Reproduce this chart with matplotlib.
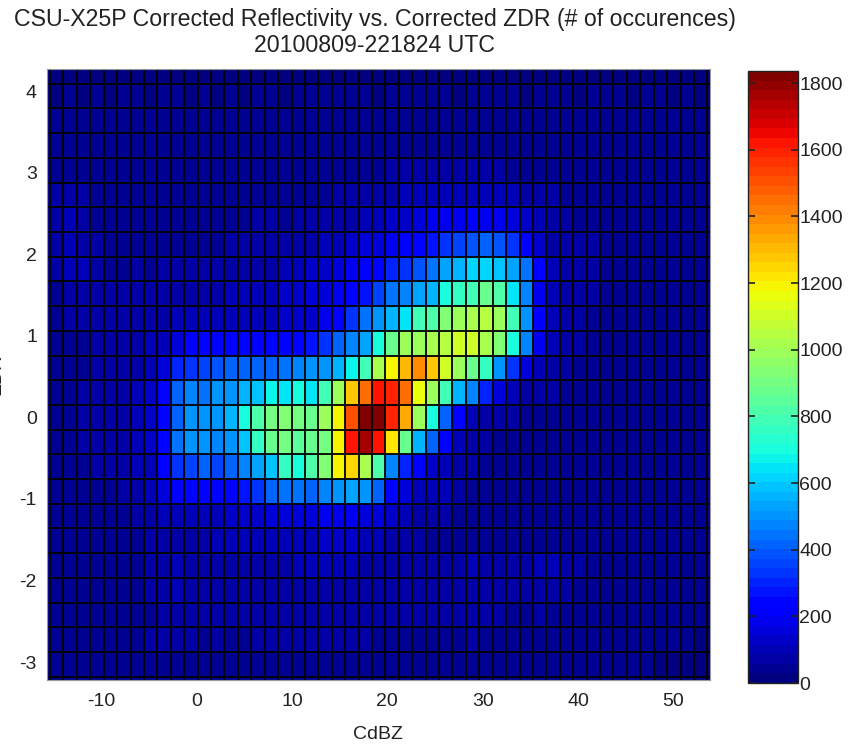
import numpy as np
import matplotlib
matplotlib.use("Agg")
import matplotlib.pyplot as plt

plt.rcParams["font.family"] = ["Liberation Sans", "DejaVu Sans"]
plt.rcParams["axes.unicode_minus"] = False

# Bin edges of the 2-D histogram (dBZ columns, ZDR rows)
dbz_edges = np.linspace(-16.756, 54.956, 52)
zdr_edges = np.linspace(-3.483, 4.395, 27)

# Counts per bin, listed from the top ZDR row down to the bottom row
counts_top_down = [
    [22, 25, 28, 24, 26, 23, 25, 27, 24, 26, 28, 25, 27, 24, 26, 25, 28, 26, 24, 27, 25, 26, 28, 25, 27, 24, 26, 25, 27, 28,
     26, 24, 25, 27, 26, 25, 24, 26, 27, 25, 24, 26, 25, 27, 24, 25, 26, 24, 25, 23, 22],
    [24, 28, 32, 27, 30, 26, 29, 31, 27, 29, 31, 28, 30, 27, 29, 28, 32, 30, 27, 31, 29, 30, 32, 29, 31, 28, 30, 29, 31, 33,
     30, 28, 29, 31, 30, 29, 28, 30, 31, 29, 28, 30, 29, 31, 28, 29, 30, 28, 29, 27, 25],
    [26, 32, 36, 30, 33, 29, 32, 35, 30, 33, 35, 31, 34, 30, 33, 32, 36, 34, 31, 35, 33, 34, 37, 34, 36, 33, 36, 38, 36, 38,
     35, 33, 34, 36, 35, 34, 32, 34, 35, 33, 32, 34, 33, 35, 32, 33, 34, 31, 32, 30, 28],
    [28, 38, 44, 36, 38, 33, 36, 40, 34, 37, 40, 35, 38, 34, 37, 36, 40, 38, 35, 39, 37, 39, 42, 40, 43, 41, 45, 48, 46, 48,
     45, 42, 44, 45, 43, 41, 38, 40, 41, 38, 36, 38, 37, 39, 36, 37, 38, 35, 36, 33, 30],
    [30, 48, 56, 44, 42, 37, 40, 44, 38, 41, 44, 39, 42, 38, 41, 40, 44, 42, 40, 44, 42, 45, 50, 48, 52, 52, 58, 62, 60, 64,
     62, 58, 60, 62, 58, 54, 48, 50, 50, 46, 42, 44, 42, 44, 40, 41, 42, 39, 40, 36, 33],
    [34, 62, 78, 60, 50, 42, 45, 48, 43, 46, 48, 44, 47, 43, 46, 46, 50, 49, 47, 52, 52, 56, 62, 64, 70, 74, 84, 92, 96, 104,
     108, 106, 110, 112, 104, 92, 76, 66, 62, 56, 50, 50, 48, 49, 45, 45, 46, 42, 43, 39, 36],
    [38, 70, 96, 74, 56, 46, 48, 52, 47, 50, 52, 48, 51, 48, 52, 53, 58, 58, 57, 62, 66, 72, 80, 86, 96, 108, 124, 140, 160, 180,
     196, 198, 204, 200, 186, 160, 120, 88, 72, 62, 56, 54, 52, 52, 48, 48, 48, 44, 45, 41, 38],
    [40, 74, 110, 84, 62, 50, 52, 55, 51, 54, 57, 53, 56, 54, 58, 60, 66, 68, 70, 78, 86, 96, 108, 124, 150, 170, 192, 204, 232, 282,
     324, 362, 400, 418, 384, 320, 224, 130, 86, 70, 62, 58, 55, 55, 50, 50, 50, 46, 46, 42, 39],
    [40, 66, 102, 92, 66, 54, 56, 58, 55, 60, 62, 60, 63, 62, 68, 72, 80, 86, 96, 108, 122, 140, 160, 184, 220, 252, 290, 340, 400, 432,
     520, 562, 604, 624, 602, 540, 442, 232, 110, 78, 66, 60, 57, 56, 52, 51, 50, 47, 47, 43, 40],
    [38, 56, 72, 70, 62, 58, 60, 62, 62, 70, 74, 74, 78, 80, 88, 96, 106, 114, 126, 138, 150, 164, 192, 232, 272, 372, 432, 482, 540, 572,
     690, 752, 802, 862, 812, 652, 472, 192, 100, 74, 64, 58, 55, 54, 50, 50, 49, 46, 46, 42, 39],
    [36, 50, 58, 60, 60, 60, 64, 68, 74, 80, 90, 95, 98, 100, 102, 104, 108, 112, 118, 126, 140, 180, 222, 342, 432, 516, 572, 632, 802, 822,
     920, 982, 1032, 1042, 982, 802, 516, 222, 100, 72, 62, 56, 53, 52, 49, 48, 47, 45, 45, 41, 38],
    [36, 48, 54, 56, 58, 60, 64, 72, 90, 110, 165, 220, 230, 228, 236, 232, 228, 240, 232, 240, 262, 342, 402, 462, 542, 692, 862, 982, 1002, 1032,
     1042, 1100, 1098, 1032, 922, 692, 462, 200, 96, 70, 60, 55, 52, 51, 48, 47, 46, 44, 44, 40, 37],
    [36, 46, 52, 56, 60, 64, 70, 80, 100, 165, 300, 342, 372, 382, 402, 412, 402, 422, 432, 462, 492, 516, 572, 662, 802, 1032, 1202, 1302, 1402, 1266,
     1100, 982, 862, 752, 516, 342, 172, 100, 72, 62, 56, 52, 50, 49, 46, 45, 44, 42, 42, 39, 36],
    [36, 46, 52, 58, 64, 70, 78, 92, 120, 222, 402, 462, 432, 492, 516, 572, 602, 662, 632, 692, 642, 802, 982, 1266, 1462, 1632, 1582, 1462, 1162, 982,
     802, 572, 462, 302, 172, 110, 80, 66, 60, 56, 52, 49, 47, 46, 44, 43, 42, 40, 40, 37, 35],
    [36, 46, 54, 60, 66, 74, 84, 100, 130, 256, 402, 492, 488, 494, 572, 692, 806, 892, 922, 892, 862, 982, 1182, 1516, 1836, 1822, 1582, 1332, 982, 692,
     402, 222, 112, 80, 66, 60, 56, 52, 50, 48, 46, 45, 44, 43, 42, 41, 40, 38, 38, 36, 34],
    [35, 45, 52, 58, 64, 72, 82, 98, 130, 256, 432, 492, 490, 462, 516, 602, 752, 862, 892, 832, 862, 892, 1182, 1632, 1772, 1632, 1212, 862, 572, 402,
     222, 112, 72, 60, 55, 52, 50, 48, 46, 45, 44, 43, 42, 41, 40, 40, 39, 37, 37, 35, 33],
    [34, 42, 48, 54, 60, 66, 74, 88, 110, 222, 342, 372, 402, 372, 402, 462, 542, 602, 752, 692, 806, 922, 1182, 1242, 1032, 806, 462, 302, 222, 140,
     110, 80, 62, 55, 50, 48, 46, 45, 44, 43, 42, 41, 40, 40, 39, 38, 38, 36, 36, 34, 32],
    [33, 40, 44, 48, 52, 56, 62, 72, 90, 166, 222, 242, 252, 242, 252, 262, 342, 402, 432, 432, 402, 462, 516, 542, 492, 402, 256, 166, 110, 108,
     90, 66, 56, 52, 48, 46, 45, 44, 43, 42, 41, 40, 40, 39, 38, 38, 37, 35, 35, 33, 31],
    [32, 38, 42, 45, 48, 52, 56, 62, 72, 90, 100, 110, 112, 110, 120, 130, 140, 150, 160, 170, 172, 182, 190, 192, 172, 150, 120, 92, 72, 64,
     58, 52, 48, 46, 44, 43, 42, 42, 41, 40, 40, 39, 39, 38, 37, 37, 36, 34, 34, 32, 30],
    [31, 36, 40, 42, 45, 48, 52, 56, 62, 70, 76, 82, 86, 88, 92, 96, 100, 104, 108, 112, 114, 118, 120, 118, 110, 98, 86, 72, 62, 56,
     52, 48, 45, 43, 42, 41, 40, 40, 39, 38, 38, 37, 37, 36, 36, 35, 35, 33, 33, 31, 29],
    [30, 34, 38, 40, 43, 46, 50, 54, 58, 64, 90, 72, 74, 76, 78, 80, 82, 84, 86, 88, 88, 90, 90, 88, 84, 78, 72, 66, 62, 70,
     76, 82, 92, 74, 66, 70, 80, 92, 88, 84, 70, 52, 44, 40, 38, 36, 35, 33, 33, 31, 29],
    [30, 34, 37, 40, 42, 45, 48, 52, 60, 84, 88, 70, 66, 64, 66, 68, 70, 72, 74, 76, 76, 78, 78, 76, 74, 72, 70, 66, 62, 66,
     70, 74, 84, 72, 64, 62, 64, 70, 68, 64, 56, 48, 42, 39, 37, 35, 34, 32, 32, 30, 28],
    [29, 33, 36, 38, 40, 43, 46, 50, 56, 70, 82, 66, 62, 60, 60, 62, 64, 66, 66, 68, 68, 70, 70, 68, 66, 64, 62, 60, 58, 60,
     62, 64, 66, 62, 58, 56, 56, 58, 56, 52, 46, 42, 38, 36, 34, 33, 32, 31, 30, 29, 27],
    [28, 32, 34, 36, 38, 41, 44, 48, 64, 58, 60, 58, 56, 72, 56, 56, 58, 58, 60, 60, 60, 62, 62, 60, 58, 57, 56, 54, 52, 54,
     55, 56, 58, 55, 52, 50, 50, 52, 50, 47, 42, 39, 36, 34, 32, 31, 30, 29, 29, 28, 26],
    [27, 30, 32, 34, 36, 38, 40, 44, 48, 50, 52, 52, 50, 50, 50, 50, 52, 52, 53, 54, 54, 55, 55, 54, 52, 51, 50, 48, 47, 48,
     49, 50, 51, 49, 46, 45, 45, 46, 45, 43, 39, 36, 34, 32, 30, 29, 28, 27, 27, 26, 25],
    [26, 28, 30, 32, 34, 36, 38, 40, 42, 44, 45, 46, 46, 46, 46, 46, 47, 47, 48, 48, 48, 49, 49, 48, 47, 46, 45, 44, 43, 43,
     44, 45, 45, 44, 42, 41, 41, 42, 41, 39, 36, 34, 32, 30, 29, 28, 27, 26, 26, 25, 24],
]
counts = np.array(counts_top_down[::-1])

cbar_ticks = list(range(0, 1801, 200))
x_ticks = [-10, 0, 10, 20, 30, 40, 50]
y_ticks = [-3, -2, -1, 0, 1, 2, 3, 4]

text_color = "#222222"

fig = plt.figure(figsize=(8.54, 7.49), dpi=100)
ax = fig.add_axes([0.0547, 0.0921, 0.7767, 0.8154])

cmap = plt.get_cmap("jet", 64)
mesh = ax.pcolormesh(dbz_edges, zdr_edges, counts, cmap=cmap, vmin=0, vmax=1836,
                     shading="flat", edgecolors="none")

# black facet lines between the bins
ax.vlines(dbz_edges, zdr_edges[0], zdr_edges[-1], colors="k", linewidth=1.3)
ax.hlines(zdr_edges, dbz_edges[0], dbz_edges[-1], colors="k", linewidth=1.3)

ax.set_xlim(-15.7, 53.83)
ax.set_ylim(-3.22, 4.269)
ax.set_xticks(x_ticks)
ax.set_yticks(y_ticks)
ax.tick_params(length=0, labelsize=14, colors=text_color)
ax.tick_params(axis="x", pad=9)
ax.tick_params(axis="y", pad=7)
for s in ax.spines.values():
    s.set_color("0.6")
ax.set_xlabel("CdBZ", fontsize=14, color=text_color, labelpad=12)

# y label sits mostly past the left edge of the figure
fig.text(-0.004, 0.50, "ZDR", rotation=90, ha="center", va="center", fontsize=14, color=text_color)

fig.text(0.439, 0.974, "CSU-X25P Corrected Reflectivity vs. Corrected ZDR (# of occurences)",
         ha="center", va="center", fontsize=16.7, color=text_color)
fig.text(0.439, 0.939, "20100809-221824 UTC", ha="center", va="center", fontsize=16.7, color=text_color)

# colorbar with inward ticks on both sides
cax = fig.add_axes([0.8759, 0.0881, 0.0585, 0.817])
cb = fig.colorbar(mesh, cax=cax, ticks=cbar_ticks)
cb.outline.set_edgecolor(text_color)
cb.outline.set_linewidth(1.0)
cax.yaxis.set_ticks_position("both")
cax.tick_params(direction="in", length=5, width=1.2, left=True, right=True,
                labelleft=False, labelright=True, pad=1, labelsize=14, colors=text_color)

fig.savefig("out.png", dpi=100)
